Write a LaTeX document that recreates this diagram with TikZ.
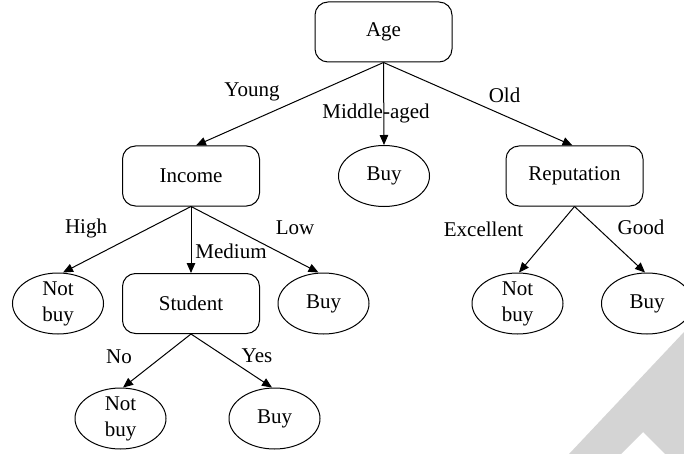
\documentclass[tikz,border=0pt]{standalone}
\usepackage{fontspec}
\setmainfont{Liberation Serif}
\usetikzlibrary{shapes.geometric,arrows.meta}
\begin{document}
\begin{tikzpicture}[x=1pt,y=-1pt,
  every node/.style={font=\fontsize{21}{26}\selectfont},
  decbox/.style={draw, line width=1pt, rounded corners=13pt, fill=white,
    minimum width=137pt, minimum height=60pt, inner sep=0pt},
  leaf/.style={draw, line width=1pt, ellipse, fill=white, align=center,
    minimum width=91pt, minimum height=61pt, inner sep=-9pt},
  lbl/.style={inner sep=0pt},
  branch/.style={line width=1pt, -{Triangle[length=10pt,width=8.5pt]}}
]
\useasboundingbox (0,0) rectangle (684,454);
% watermark
\fill[black!17] (569,454) -- (684,332) -- (684,454) -- (665,454) -- (643,432) -- (621,454) -- cycle;

\node[decbox] (age) at (383.5,32) {Age};
\node[decbox] (inc) at (191,176) {Income};
\node[leaf]   (buym) at (384,176) {Buy};
\node[decbox] (rep) at (574.5,176) {Reputation};

\node[leaf]   (nb1) at (58,303.5) {Not\\buy};
\node[decbox] (stu) at (191,303.5) {Student};
\node[leaf]   (buyl) at (323.5,303.5) {Buy};
\node[leaf]   (nb2) at (517.5,303.5) {Not\\buy};
\node[leaf]   (buyg) at (647,303.5) {Buy};

\node[leaf]   (nb3) at (120.5,418.5) {Not\\buy};
\node[leaf]   (buyy) at (274.5,418.5) {Buy};

\draw[branch] (age.south) -- ([xshift=5pt]inc.north);
\draw[branch] (age.south) -- (buym.north);
\draw[branch] (age.south) -- ([xshift=-2pt]rep.north);

\draw[branch] (inc.south) -- ([xshift=5pt]nb1.north);
\draw[branch] (inc.south) -- (stu.north);
\draw[branch] (inc.south) -- ([xshift=-5pt]buyl.north);

\draw[branch] (rep.south) -- ([xshift=1.5pt]nb2.north);
\draw[branch] (rep.south) -- ([xshift=-2pt]buyg.north);

\draw[branch] (stu.south) -- ([xshift=2.5pt]nb3.north);
\draw[branch] (stu.south) -- ([xshift=-2.5pt]buyy.north);

\node[lbl] (lyoung) at (252,92) {Young};
\node[lbl] (lmid) at (376,113) {Middle-aged};
\node[lbl] (lold) at (504.5,95) {Old};
\node[lbl] (lhigh) at (86,228) {High};
\node[lbl] (lmed) at (231,251) {Medium};
\node[lbl] (llow) at (295,228) {Low};
\node[lbl] (lexc) at (483.5,229) {Excellent};
\node[lbl] (lgood) at (641,227) {Good};
\node[lbl] (lno) at (119,357) {No};
\node[lbl] (lyes) at (257,356) {Yes};
\end{tikzpicture}
\end{document}
